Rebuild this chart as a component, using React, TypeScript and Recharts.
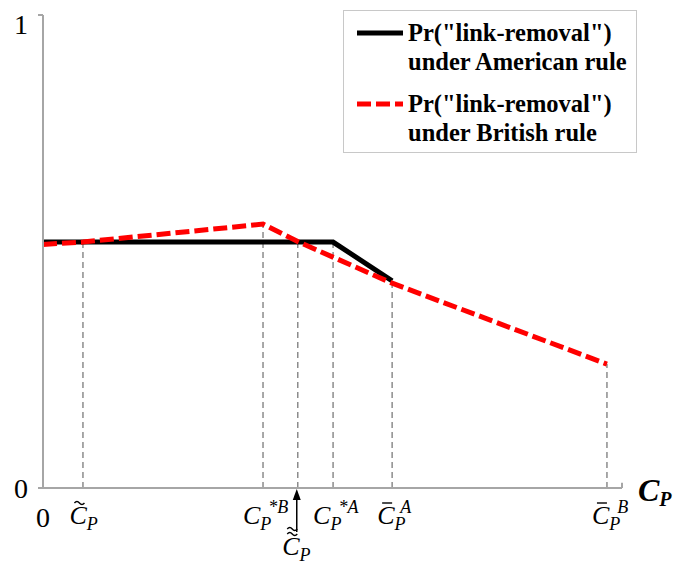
import React from 'react';
import {
  LineChart,
  Line,
  XAxis,
  YAxis,
  ReferenceLine,
  Legend,
  Label,
} from 'recharts';

// cost thresholds marked on the x axis (axis runs 0..100)
const thresholdX = [0, 6.9, 38.0, 44.0, 50.1, 60.3, 97.4];
// how each threshold label is decorated: accent over the C and the superscript
const tickAccent = ['', 'tilde', '', 'dtilde', '', 'bar', 'bar'];
const tickSup = ['', '', '*B', '', '*A', 'A', 'B'];

const yTicks = [0, 1];

// Pr("link-removal") under the American rule
const americanX = [0, 50.1, 60.3];
const americanY = [0.52, 0.52, 0.438];

// Pr("link-removal") under the British rule
const britishX = [0, 6.9, 38.0, 44.0, 60.3, 97.4];
const britishY = [0.515, 0.52, 0.558, 0.521, 0.433, 0.262];

const legendLine1 = 'Pr("link-removal")';
const legendNames = ['under American rule', 'under British rule'];

const americanData = americanX.map((x, i) => ({ x, y: americanY[i] }));
const britishData = britishX.map((x, i) => ({ x, y: britishY[i] }));

// each dashed drop line goes up to the highest curve point at that threshold
const dropHeights = thresholdX.map((t) => {
  const hits = [
    ...americanData.filter((d) => d.x === t),
    ...britishData.filter((d) => d.x === t),
  ].map((d) => d.y);
  return hits.length ? Math.max(...hits) : 0;
});

const SERIF = '"Liberation Serif", "Times New Roman", serif';
const AXIS_GRAY = '#a6a6a6';

const XTick = (props: any) => {
  const { x, y, index } = props;
  if (index === 0) {
    return (
      <text x={x} y={y + 39} textAnchor="middle" fontSize={28} fontFamily={SERIF}>
        0
      </text>
    );
  }
  const accent = tickAccent[index];
  const sup = tickSup[index];
  const isArrow = accent === 'dtilde';
  const base = y + (isArrow ? 67 : 36);
  const w = 17 + (sup ? sup.length * 10 + 3 : 10);
  const x0 = x - w / 2 - (isArrow ? 2 : 0);
  const cx = x0 + 10;
  const ty = base - 21;
  const tilde = (yy: number) =>
    `M${cx - 5},${yy} Q${cx - 2.5},${yy - 3} ${cx},${yy} T${cx + 5},${yy}`;

  return (
    <g>
      {isArrow && (
        <g>
          <line x1={x - 1} y1={y + 8} x2={x - 1} y2={y + 44} stroke="#000" strokeWidth={1.5} />
          <polygon
            points={`${x - 1},${y + 1} ${x - 5},${y + 12} ${x + 3},${y + 12}`}
            fill="#000"
          />
        </g>
      )}
      {accent === 'tilde' && <path d={tilde(ty)} stroke="#000" strokeWidth={1.4} fill="none" />}
      {accent === 'dtilde' && (
        <g>
          <path d={tilde(ty)} stroke="#000" strokeWidth={1.4} fill="none" />
          <path d={tilde(ty - 5)} stroke="#000" strokeWidth={1.4} fill="none" />
        </g>
      )}
      {accent === 'bar' && (
        <line x1={cx - 5} y1={ty} x2={cx + 5} y2={ty} stroke="#000" strokeWidth={1.4} />
      )}
      <text x={x0} y={base} fontSize={26} fontStyle="italic" fontFamily={SERIF}>
        C
        <tspan fontSize={18} dy={6}>
          P
        </tspan>
        {sup && (
          <tspan fontSize={18} dx={-3} dy={-17}>
            {sup}
          </tspan>
        )}
      </text>
    </g>
  );
};

const AxisTitle = (props: any) => {
  const { viewBox } = props;
  const x = viewBox.x + viewBox.width + 16;
  const y = viewBox.y + 13;
  return (
    <text x={x} y={y} fontFamily={SERIF} fontWeight="bold" fontStyle="italic" fontSize={32}>
      C
      <tspan fontSize={20} dy={5}>
        P
      </tspan>
    </text>
  );
};

const LegendBox = () => {
  const samples = [
    <line key="a" x1={0} y1={5} x2={46} y2={5} stroke="#000" strokeWidth={5} />,
    <line key="b" x1={0} y1={5} x2={46} y2={5} stroke="#ff0000" strokeWidth={5} strokeDasharray="14 5" />,
  ];
  return (
    <div
      style={{
        width: 294,
        height: 143,
        boxSizing: 'border-box',
        border: '1.5px solid #c8c8c8',
        background: '#fff',
        fontFamily: SERIF,
        fontWeight: 'bold',
        fontSize: 24.5,
        lineHeight: '29px',
        color: '#000',
        paddingTop: 7,
        whiteSpace: 'nowrap',
      }}
    >
      {legendNames.map((name, i) => (
        <div key={name} style={{ display: 'flex', marginBottom: 13 }}>
          <svg width={50} height={10} style={{ marginLeft: 13, marginTop: 10, flex: 'none' }}>
            {samples[i]}
          </svg>
          <div style={{ marginLeft: 1 }}>
            <div>{legendLine1}</div>
            <div>{name}</div>
          </div>
        </div>
      ))}
    </div>
  );
};

export default function App() {
  return (
    <LineChart
      width={675}
      height={561}
      margin={{ top: 7, right: 61, bottom: 0, left: 0 }}
      style={{ overflow: 'visible' }}
    >
      <XAxis
        dataKey="x"
        type="number"
        domain={[0, 100]}
        ticks={thresholdX}
        interval={0}
        tick={<XTick />}
        tickLine={false}
        tickSize={0}
        tickMargin={0}
        height={81}
        axisLine={{ stroke: AXIS_GRAY, strokeWidth: 2 }}
      >
        <Label content={<AxisTitle />} />
      </XAxis>
      <YAxis
        type="number"
        domain={[0, 1]}
        ticks={yTicks}
        width={35}
        tickSize={5}
        tickMargin={10}
        tickLine={{ stroke: AXIS_GRAY, strokeWidth: 2 }}
        axisLine={{ stroke: AXIS_GRAY, strokeWidth: 2 }}
        tick={{ fontSize: 28, fontFamily: SERIF, fill: '#000' }}
      />
      {thresholdX.map((t, i) =>
        dropHeights[i] > 0 ? (
          <ReferenceLine
            key={t}
            segment={[
              { x: t, y: 0 },
              { x: t, y: dropHeights[i] },
            ]}
            stroke="#8c8c8c"
            strokeWidth={1.5}
            strokeDasharray="6 4"
          />
        ) : null
      )}
      <ReferenceLine
        segment={[
          { x: 100, y: 0 },
          { x: 100, y: 0.011 },
        ]}
        stroke={AXIS_GRAY}
        strokeWidth={2}
      />
      <Legend
        layout="vertical"
        align="center"
        verticalAlign="middle"
        wrapperStyle={{ left: 335, top: 2, width: 294, height: 143 }}
        content={<LegendBox />}
      />
      <Line
        data={americanData}
        dataKey="y"
        stroke="#000"
        strokeWidth={5}
        dot={false}
        isAnimationActive={false}
      />
      <Line
        data={britishData}
        dataKey="y"
        stroke="#ff0000"
        strokeWidth={5}
        strokeDasharray="14 5"
        dot={false}
        isAnimationActive={false}
      />
    </LineChart>
  );
}
